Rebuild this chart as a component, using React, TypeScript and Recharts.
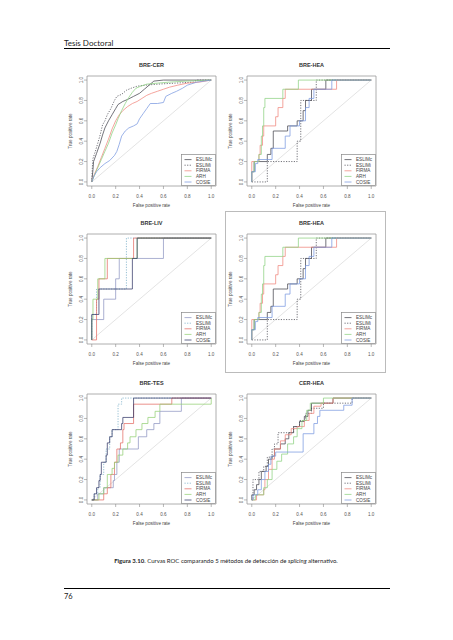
import React from 'react';
import { LineChart, Line, XAxis, YAxis, ReferenceArea, ReferenceLine, Legend } from 'recharts';

type Pt = [number, number];

const methods = ['ESLIMc', 'ESLIMi', 'FIRMA', 'ARH', 'COSIE'];
// two colour sets: the LIV/TES panels were drawn with a different order
const paletteA = ['#45454f', '#45454f', '#f0857c', '#8ed282', '#7b99e0'];
const paletteB = ['#8f95c2', '#72aac4', '#e46d66', '#94d075', '#343a68'];
const dashes = ['', '1.2 1.4', '', '', ''];
const axisTicks = [0, 0.2, 0.4, 0.6, 0.8, 1];
const panelTitles = ['BRE-CER', 'BRE-HEA', 'BRE-LIV', 'BRE-HEA', 'BRE-TES', 'CER-HEA'];

// BRE-CER
const breCerEslimc: Pt[] = [[0, 0], [0.01, 0.12], [0.015, 0.2], [0.04, 0.28], [0.07, 0.38], [0.09, 0.46], [0.11, 0.53], [0.14, 0.6], [0.17, 0.66], [0.2, 0.72], [0.22, 0.76], [0.26, 0.79], [0.3, 0.81], [0.35, 0.84], [0.4, 0.87], [0.44, 0.91], [0.48, 0.95], [0.52, 0.99], [0.6, 1], [1, 1]];
const breCerEslimi: Pt[] = [[0, 0], [0.005, 0.15], [0.01, 0.23], [0.03, 0.3], [0.05, 0.38], [0.07, 0.46], [0.09, 0.56], [0.11, 0.6], [0.13, 0.66], [0.16, 0.72], [0.19, 0.8], [0.21, 0.84], [0.25, 0.86], [0.29, 0.9], [0.33, 0.92], [0.38, 0.94], [0.45, 0.95], [0.55, 0.96], [0.7, 0.97], [0.85, 0.98], [0.88, 1], [1, 1]];
const breCerFirma: Pt[] = [[0, 0], [0.02, 0.07], [0.05, 0.15], [0.08, 0.24], [0.11, 0.33], [0.14, 0.42], [0.17, 0.52], [0.2, 0.6], [0.23, 0.66], [0.26, 0.7], [0.3, 0.74], [0.34, 0.77], [0.38, 0.79], [0.42, 0.82], [0.46, 0.85], [0.5, 0.87], [0.55, 0.89], [0.6, 0.91], [0.65, 0.93], [0.72, 0.95], [0.8, 0.97], [0.9, 0.98], [1, 1]];
const breCerArh: Pt[] = [[0, 0], [0.02, 0.06], [0.05, 0.14], [0.08, 0.22], [0.11, 0.3], [0.14, 0.38], [0.17, 0.48], [0.2, 0.56], [0.22, 0.62], [0.25, 0.7], [0.28, 0.77], [0.31, 0.83], [0.34, 0.88], [0.37, 0.92], [0.41, 0.94], [0.46, 0.96], [0.55, 0.97], [0.65, 0.98], [0.8, 0.99], [1, 1]];
const breCerCosie: Pt[] = [[0, 0], [0.02, 0.06], [0.04, 0.1], [0.07, 0.14], [0.11, 0.18], [0.15, 0.21], [0.19, 0.26], [0.21, 0.3], [0.23, 0.37], [0.25, 0.45], [0.28, 0.5], [0.31, 0.53], [0.35, 0.55], [0.38, 0.57], [0.4, 0.62], [0.43, 0.67], [0.46, 0.72], [0.49, 0.77], [0.55, 0.77], [0.6, 0.78], [0.62, 0.84], [0.67, 0.87], [0.71, 0.89], [0.76, 0.92], [0.8, 0.95], [0.88, 0.98], [1, 1]];

// BRE-HEA (step curves, point = fpr where tpr rises, new tpr)
const breHeaEslimc: Pt[] = [[0, 0], [0, 0.1], [0.02, 0.2], [0.13, 0.27], [0.16, 0.33], [0.18, 0.5], [0.3, 0.55], [0.38, 0.6], [0.43, 0.7], [0.45, 0.8], [0.5, 0.91], [0.62, 1], [1, 1]];
const breHeaEslimi: Pt[] = [[0, 0], [0.13, 0.2], [0.38, 0.4], [0.41, 0.8], [0.54, 1], [1, 1]];
const breHeaFirma: Pt[] = [[0, 0], [0, 0.2], [0.06, 0.27], [0.07, 0.36], [0.09, 0.45], [0.1, 0.55], [0.2, 0.64], [0.22, 0.73], [0.26, 0.82], [0.28, 0.91], [0.71, 1], [1, 1]];
const breHeaArh: Pt[] = [[0, 0], [0, 0.1], [0.02, 0.2], [0.06, 0.27], [0.08, 0.45], [0.09, 0.55], [0.1, 0.73], [0.11, 0.82], [0.26, 0.91], [0.39, 1], [1, 1]];
const breHeaCosie: Pt[] = [[0, 0], [0, 0.1], [0.03, 0.18], [0.05, 0.22], [0.17, 0.33], [0.28, 0.45], [0.32, 0.55], [0.4, 0.6], [0.45, 0.73], [0.48, 0.82], [0.52, 0.91], [0.67, 1], [1, 1]];

// BRE-LIV
const breLivEslimc: Pt[] = [[0, 0], [0, 0.2], [0.1, 0.4], [0.2, 0.6], [0.23, 0.8], [0.6, 1], [1, 1]];
const breLivEslimi: Pt[] = [[0, 0], [0, 0.25], [0.04, 0.5], [0.29, 1], [1, 1]];
const breLivFirma: Pt[] = [[0, 0], [0.04, 0.4], [0.06, 0.6], [0.13, 0.8], [0.35, 1], [1, 1]];
const breLivArh: Pt[] = [[0, 0], [0, 0.2], [0.01, 0.4], [0.05, 0.6], [0.11, 0.8], [0.38, 1], [1, 1]];
const breLivCosie: Pt[] = [[0, 0], [0, 0.25], [0.06, 0.5], [0.34, 0.8], [0.38, 1], [1, 1]];

// BRE-TES
const breTesEslimc: Pt[] = [[0, 0], [0.05, 0.06], [0.1, 0.12], [0.18, 0.19], [0.19, 0.25], [0.21, 0.37], [0.23, 0.5], [0.39, 0.62], [0.46, 0.69], [0.52, 0.75], [0.57, 0.87], [0.75, 1], [1, 1]];
const breTesEslimi: Pt[] = [[0, 0], [0.02, 0.06], [0.05, 0.12], [0.07, 0.25], [0.1, 0.37], [0.12, 0.5], [0.15, 0.62], [0.17, 0.69], [0.22, 0.94], [0.25, 1], [1, 1]];
const breTesFirma: Pt[] = [[0, 0], [0.1, 0.06], [0.13, 0.12], [0.16, 0.25], [0.19, 0.37], [0.21, 0.5], [0.24, 0.56], [0.26, 0.69], [0.27, 0.75], [0.35, 0.94], [0.67, 1], [1, 1]];
const breTesArh: Pt[] = [[0, 0], [0.06, 0.06], [0.1, 0.12], [0.13, 0.25], [0.17, 0.31], [0.19, 0.37], [0.22, 0.44], [0.26, 0.5], [0.3, 0.56], [0.32, 0.62], [0.37, 0.69], [0.42, 0.75], [0.47, 0.81], [0.53, 0.87], [0.57, 0.94], [1, 1]];
const breTesCosie: Pt[] = [[0, 0], [0.02, 0.06], [0.04, 0.12], [0.06, 0.19], [0.07, 0.25], [0.08, 0.37], [0.12, 0.44], [0.13, 0.56], [0.15, 0.62], [0.17, 0.69], [0.25, 0.75], [0.26, 0.81], [0.35, 1], [1, 1]];

// CER-HEA
const cerHeaEslimc: Pt[] = [[0, 0], [0, 0.05], [0.02, 0.1], [0.04, 0.15], [0.06, 0.2], [0.08, 0.28], [0.12, 0.33], [0.14, 0.4], [0.17, 0.43], [0.19, 0.5], [0.24, 0.55], [0.28, 0.6], [0.31, 0.66], [0.35, 0.72], [0.4, 0.77], [0.44, 0.82], [0.47, 0.88], [0.5, 0.95], [0.68, 1], [1, 1]];
const cerHeaEslimi: Pt[] = [[0, 0], [0.01, 0.2], [0.06, 0.28], [0.1, 0.33], [0.13, 0.42], [0.17, 0.5], [0.19, 0.55], [0.22, 0.66], [0.35, 0.72], [0.4, 0.78], [0.45, 0.85], [0.5, 0.9], [0.6, 0.95], [0.84, 1], [1, 1]];
const cerHeaFirma: Pt[] = [[0, 0], [0.04, 0.05], [0.1, 0.1], [0.11, 0.2], [0.14, 0.3], [0.17, 0.4], [0.19, 0.5], [0.24, 0.58], [0.28, 0.64], [0.33, 0.7], [0.38, 0.72], [0.44, 0.78], [0.48, 0.85], [0.52, 0.92], [0.58, 0.95], [0.68, 1], [1, 1]];
const cerHeaArh: Pt[] = [[0, 0], [0.03, 0.05], [0.1, 0.12], [0.13, 0.2], [0.17, 0.3], [0.21, 0.38], [0.25, 0.45], [0.3, 0.55], [0.35, 0.62], [0.38, 0.7], [0.42, 0.78], [0.46, 0.88], [0.49, 0.95], [0.6, 1], [1, 1]];
const cerHeaCosie: Pt[] = [[0, 0], [0.01, 0.05], [0.05, 0.1], [0.08, 0.2], [0.11, 0.28], [0.14, 0.35], [0.16, 0.43], [0.2, 0.47], [0.43, 0.65], [0.52, 0.75], [0.55, 0.82], [0.57, 0.88], [0.77, 0.93], [0.84, 1], [1, 1]];

const panels = [
  { title: panelTitles[0], curve: 'linear', palette: paletteA, series: [breCerEslimc, breCerEslimi, breCerFirma, breCerArh, breCerCosie] },
  { title: panelTitles[1], curve: 'stepAfter', palette: paletteA, series: [breHeaEslimc, breHeaEslimi, breHeaFirma, breHeaArh, breHeaCosie] },
  { title: panelTitles[2], curve: 'stepAfter', palette: paletteB, series: [breLivEslimc, breLivEslimi, breLivFirma, breLivArh, breLivCosie] },
  { title: panelTitles[3], curve: 'stepAfter', palette: paletteA, series: [breHeaEslimc, breHeaEslimi, breHeaFirma, breHeaArh, breHeaCosie] },
  { title: panelTitles[4], curve: 'stepAfter', palette: paletteB, series: [breTesEslimc, breTesEslimi, breTesFirma, breTesArh, breTesCosie] },
  { title: panelTitles[5], curve: 'stepAfter', palette: paletteA, series: [cerHeaEslimc, cerHeaEslimi, cerHeaFirma, cerHeaArh, cerHeaCosie] },
];

// plot box positions on the page
const slots = [
  { left: 87, top: 76 }, { left: 247, top: 76 },
  { left: 87, top: 234 }, { left: 247, top: 234 },
  { left: 87, top: 394 }, { left: 247, top: 394 },
];

const BOX_W = 129;
const BOX_H = 110;
const AXIS_W = 30;
const AXIS_H = 26;
const LEG_W = 35;
const LEG_H = 32;
const FONT = '"Liberation Sans", Arial, sans-serif';

const YTick = (props: any) => {
  const { x, y, payload } = props;
  return (
    <text x={x} y={y} transform={`rotate(-90 ${x} ${y})`} textAnchor="middle" fontSize={4.6} fill="#555">
      {Number(payload.value).toFixed(1)}
    </text>
  );
};

const xLabel = (props: any) => {
  const vb = props.viewBox;
  return (
    <text x={vb.x + vb.width / 2} y={vb.y + 21} textAnchor="middle" fontSize={4.6} fill="#444">
      False positive rate
    </text>
  );
};

const yLabel = (props: any) => {
  const vb = props.viewBox;
  const cx = vb.x + 14.5;
  const cy = vb.y + vb.height / 2;
  return (
    <text x={cx} y={cy} transform={`rotate(-90 ${cx} ${cy})`} textAnchor="middle" fontSize={4.6} fill="#444">
      True positive rate
    </text>
  );
};

const legendContent = (palette: string[]) => () => (
  <svg width={LEG_W} height={LEG_H} style={{ display: 'block' }}>
    <rect x={0.4} y={0.4} width={LEG_W - 0.8} height={LEG_H - 0.8} fill="#fff" stroke="#888" strokeWidth={0.7} />
    {methods.map((m, i) => {
      const y = 5.6 + i * 5.6;
      return (
        <g key={m}>
          <line x1={3.5} x2={10.5} y1={y} y2={y} stroke={palette[i]} strokeWidth={0.75} strokeDasharray={dashes[i] || undefined} />
          <text x={15} y={y + 1.6} fontSize={4.6} fill="#444" fontFamily={FONT}>{m}</text>
        </g>
      );
    })}
  </svg>
);

function RocPanel({ panel, slot }: { panel: typeof panels[number]; slot: { left: number; top: number } }) {
  return (
    <div style={{ position: 'absolute', left: slot.left - AXIS_W, top: slot.top - 1, fontFamily: FONT }}>
      <LineChart width={AXIS_W + BOX_W + 4} height={1 + BOX_H + AXIS_H} margin={{ top: 1, right: 4, bottom: 0, left: 0 }}>
        <XAxis
          type="number"
          dataKey="x"
          domain={[-0.04, 1.04]}
          allowDataOverflow
          ticks={axisTicks}
          interval={0}
          tickFormatter={(v: number) => v.toFixed(1)}
          axisLine={false}
          tickLine={{ stroke: '#888', strokeWidth: 0.6 }}
          tickSize={3}
          tickMargin={6}
          height={AXIS_H}
          tick={{ fontSize: 4.6, fill: '#555' }}
          label={xLabel}
        />
        <YAxis
          type="number"
          dataKey="y"
          domain={[-0.04, 1.04]}
          allowDataOverflow
          ticks={axisTicks}
          interval={0}
          width={AXIS_W}
          axisLine={false}
          tickLine={{ stroke: '#888', strokeWidth: 0.6 }}
          tickSize={3}
          tickMargin={1}
          tick={(p: any) => <YTick {...p} />}
          label={yLabel}
        />
        <ReferenceLine segment={[{ x: 0, y: 0 }, { x: 1, y: 1 }]} stroke="#dcdcdc" strokeWidth={0.8} ifOverflow="visible" />
        {panel.series.map((pts, i) => (
          <Line
            key={methods[i]}
            name={methods[i]}
            data={pts.map(([x, y]) => ({ x, y }))}
            dataKey="y"
            type={panel.curve as any}
            stroke={panel.palette[i]}
            strokeWidth={0.75}
            strokeDasharray={dashes[i] || undefined}
            dot={false}
            activeDot={false}
            isAnimationActive={false}
          />
        ))}
        <ReferenceArea x1={-0.04} x2={1.04} y1={-0.04} y2={1.04} fill="none" fillOpacity={0} stroke="#999" strokeWidth={0.8} ifOverflow="visible" />
        <Legend
          layout="horizontal"
          verticalAlign="middle"
          align="center"
          wrapperStyle={{ left: AXIS_W + BOX_W - LEG_W, top: 1 + BOX_H - LEG_H, width: LEG_W, height: LEG_H }}
          content={legendContent(panel.palette)}
        />
      </LineChart>
    </div>
  );
}

export default function App() {
  return (
    <div style={{ position: 'absolute', left: 0, top: 0, width: 453, height: 640, background: '#fff', overflow: 'hidden' }}>
      <svg width={453} height={640} style={{ position: 'absolute', left: 0, top: 0 }}>
        <text x={64} y={46} fontSize={8} fontFamily={'Lato, "Liberation Sans", sans-serif'} fill="#222">Tesis Doctoral</text>
        <line x1={64} x2={390} y1={48.5} y2={48.5} stroke="#000" strokeWidth={1} />
        <rect x={225.5} y={211.5} width={160} height={161} fill="none" stroke="#bbb" strokeWidth={1} />
        {slots.map((s, i) => (
          <text key={i} x={s.left + BOX_W / 2} y={s.top - 9} textAnchor="middle" fontSize={5.5} fontWeight="bold" fontFamily={FONT} fill="#333">
            {panels[i].title}
          </text>
        ))}
        <text x={226} y={563} textAnchor="middle" fontSize={6} fontFamily={'Lato, "Liberation Sans", sans-serif'} fill="#222">
          <tspan fontWeight="bold">Figura 3.10</tspan>. Curvas ROC comparando 5 métodos de detección de <tspan fontStyle="italic">splicing</tspan> alternativo.
        </text>
        <line x1={64} x2={390} y1={588.5} y2={588.5} stroke="#000" strokeWidth={1} />
        <text x={64} y={599} fontSize={7.5} fontFamily={'Lato, "Liberation Sans", sans-serif'} fill="#222">76</text>
      </svg>
      {panels.map((p, i) => (
        <RocPanel key={i} panel={p} slot={slots[i]} />
      ))}
    </div>
  );
}
